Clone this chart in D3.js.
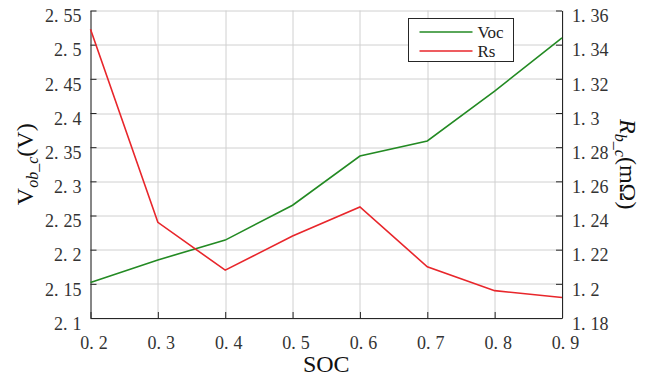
<!DOCTYPE html>
<html>
<head>
<meta charset="utf-8">
<script src="https://cdn.jsdelivr.net/npm/d3@7"></script>
<style>
	body { margin: 0; background: #fff; }
	.grid line { stroke: #d0d0d0; stroke-width: 1; }
	.axis path, .axis line { stroke: #262626; }
</style>
</head>
<body>
<div id="chart"></div>
<script>
// data
const soc = [0.2, 0.3, 0.4, 0.5, 0.6, 0.7, 0.8, 0.9];
const voc = [2.152, 2.185, 2.214, 2.265, 2.337, 2.359, 2.432, 2.510];
const rs = [1.349, 1.236, 1.208, 1.228, 1.245, 1.210, 1.196, 1.192];
const xTicks = [0.2, 0.3, 0.4, 0.5, 0.6, 0.7, 0.8, 0.9];
const leftTicks = [2.1, 2.15, 2.2, 2.25, 2.3, 2.35, 2.4, 2.45, 2.5, 2.55];
const rightTicks = [1.18, 1.2, 1.22, 1.24, 1.26, 1.28, 1.3, 1.32, 1.34, 1.36];

const SERIF = "'Liberation Serif', 'DejaVu Serif', serif";
const W = 663, H = 379;
const margin = { top: 10.5, right: 101, bottom: 61, left: 90.5 };
const width = W - margin.left - margin.right;
const height = H - margin.top - margin.bottom;

const svg = d3.select("#chart")
	.append("svg")
	.attr("width", W)
	.attr("height", H)
	.style("display", "block")
	.style("font-family", SERIF);

const g = svg.append("g")
	.attr("transform", "translate(" + margin.left + "," + margin.top + ")");

const x = d3.scaleLinear().domain([0.2, 0.9]).range([0, width]);
const yL = d3.scaleLinear().domain([2.1, 2.55]).range([height, 0]);
const yR = d3.scaleLinear().domain([1.18, 1.36]).range([height, 0]);

// grid
const grid = g.append("g").classed("grid", true);
grid.selectAll(".h")
	.data(leftTicks)
	.enter()
	.append("line")
	.attr("x1", 0).attr("x2", width)
	.attr("y1", d => Math.round(yL(d)) + 0.5)
	.attr("y2", d => Math.round(yL(d)) + 0.5);
grid.selectAll(".v")
	.data(xTicks)
	.enter()
	.append("line")
	.attr("y1", 0).attr("y2", height)
	.attr("x1", d => Math.round(x(d)) + 0.5)
	.attr("x2", d => Math.round(x(d)) + 0.5);

// split "2.55" into "2." + gap + "55", like the wide period in the original font
function widePeriod(sel) {
	sel.attr("font-family", null).attr("font-size", null);
	sel.selectAll("text").each(function () {
		const t = d3.select(this);
		const s = t.text();
		t.style("font-family", SERIF).style("font-size", "18px").attr("fill", "#333");
		const parts = s.split(".");
		if (parts.length < 2) return;
		t.text(null);
		t.append("tspan").text(parts[0] + ".");
		t.append("tspan").attr("dx", 5).text(parts[1]);
	});
}

const fmt = d => String(+d.toFixed(2));

// axes
const xAxis = d3.axisBottom(x).tickValues(xTicks).tickFormat(fmt).tickSize(-6).tickSizeOuter(0).tickPadding(13);
const xg = g.append("g").classed("axis", true)
	.attr("transform", "translate(0," + height + ")")
	.call(xAxis);
xg.selectAll("text").attr("dy", "1em").attr("dx", 3);
widePeriod(xg);

const yAxisL = d3.axisLeft(yL).tickValues(leftTicks).tickFormat(fmt).tickSize(-6).tickSizeOuter(0).tickPadding(9);
const ylg = g.append("g").classed("axis", true).call(yAxisL);
ylg.selectAll("text").attr("dy", "0.62em");
widePeriod(ylg);

const yAxisR = d3.axisRight(yR).tickValues(rightTicks).tickFormat(fmt).tickSize(-6).tickSizeOuter(0).tickPadding(10);
const yrg = g.append("g").classed("axis", true)
	.attr("transform", "translate(" + width + ",0)")
	.call(yAxisR);
yrg.selectAll("text").attr("dy", "0.62em");
widePeriod(yrg);

// lines
const lineL = d3.line().x((d, i) => x(soc[i])).y(d => yL(d));
const lineR = d3.line().x((d, i) => x(soc[i])).y(d => yR(d));
g.append("path").datum(voc)
	.attr("d", lineL)
	.attr("fill", "none")
	.attr("stroke", "#238a23")
	.attr("stroke-width", 1.6);
g.append("path").datum(rs)
	.attr("d", lineR)
	.attr("fill", "none")
	.attr("stroke", "#e8262b")
	.attr("stroke-width", 1.6);

// axis titles
svg.append("text")
	.attr("x", margin.left + width / 2)
	.attr("y", 372)
	.attr("text-anchor", "middle")
	.style("font-family", SERIF)
	.style("font-size", "24px")
	.attr("fill", "#111")
	.text("SOC");

const lt = svg.append("text")
	.attr("transform", "translate(33," + (margin.top + height / 2) + ") rotate(-90)")
	.attr("text-anchor", "middle")
	.style("font-family", SERIF)
	.style("font-size", "24px")
	.attr("fill", "#111");
lt.append("tspan").text("V");
lt.append("tspan").style("font-size", "16px").attr("font-style", "italic").attr("dy", 5).text("ob_c");
lt.append("tspan").attr("dy", -5).text("(V)");

const rt = svg.append("text")
	.attr("transform", "translate(620," + (margin.top + height / 2) + ") rotate(90)")
	.attr("text-anchor", "middle")
	.style("font-family", SERIF)
	.style("font-size", "24px")
	.attr("fill", "#111");
rt.append("tspan").attr("font-style", "italic").text("R");
rt.append("tspan").style("font-size", "16px").attr("font-style", "italic").attr("dy", 5).text("b_c");
rt.append("tspan").attr("dy", -5).text("(mΩ)");

// legend
const legend = svg.append("g").attr("transform", "translate(408.5,18.5)");
legend.append("rect")
	.attr("width", 105)
	.attr("height", 43)
	.attr("fill", "#fff")
	.attr("stroke", "#262626");
const legendItems = [
	{ label: "Voc", color: "#238a23" },
	{ label: "Rs", color: "#e8262b" }
];
legendItems.forEach((item, i) => {
	const yy = 13.5 + i * 19;
	legend.append("line")
		.attr("x1", 11).attr("x2", 64)
		.attr("y1", yy).attr("y2", yy)
		.attr("stroke", item.color)
		.attr("stroke-width", 1.6);
	legend.append("text")
		.attr("x", 69)
		.attr("y", yy + 5.5)
		.style("font-family", SERIF)
		.style("font-size", "17px")
		.attr("fill", "#222")
		.text(item.label);
});
</script>
</body>
</html>
